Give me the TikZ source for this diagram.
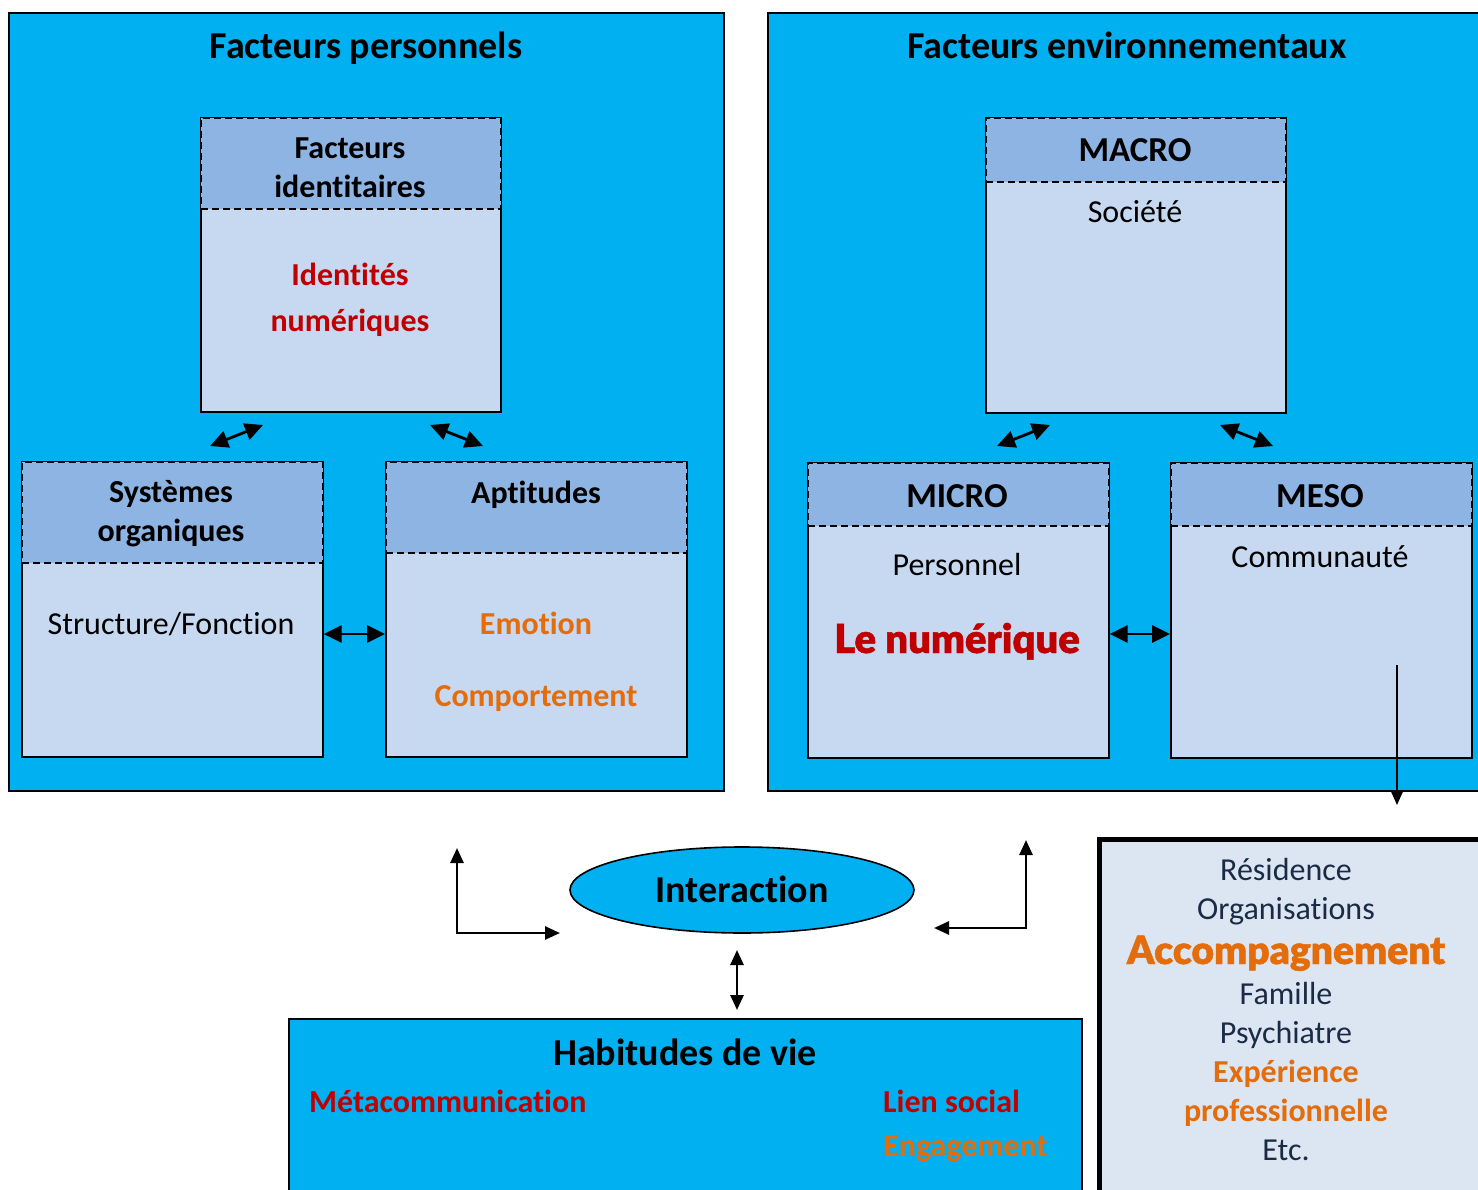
\documentclass[tikz,border=0pt]{standalone}
\usepackage{fontspec}
\setmainfont{Carlito}[Ligatures=NoCommon, Contextuals=NoAlternate]
\newfontfamily\heavy{Lato Black}[BoldFont={Lato Black}, BoldFeatures={FakeBold=1.2}]
\usetikzlibrary{arrows.meta,shapes.geometric}
\definecolor{cyanbg}{HTML}{00B0F0}
\definecolor{headc}{HTML}{8EB4E3}
\definecolor{bodyc}{HTML}{C6D9F1}
\definecolor{paleb}{HTML}{DCE6F2}
\definecolor{redt}{HTML}{C00000}
\definecolor{orat}{HTML}{E46C0A}
\definecolor{navy}{HTML}{1B2B45}
\tikzset{
  outer/.style={draw=black, line width=1.6pt, fill=cyanbg, anchor=north west, inner sep=0pt},
  bodybox/.style={draw=black, line width=1.6pt, fill=bodyc, anchor=north west, inner sep=0pt},
  headbox/.style={draw=black, line width=1.8pt, dash pattern=on 7pt off 4pt, fill=headc, anchor=north west, inner sep=0pt},
  lbl/.style={inner sep=0pt, anchor=base},
  title/.style={lbl, font=\fontsize{38}{44}\selectfont\bfseries},
  head/.style={lbl, font=\fontsize{32}{39}\selectfont\bfseries},
  caps/.style={lbl, font=\fontsize{35}{40}\selectfont\bfseries},
  plain/.style={lbl, font=\fontsize{32}{39}\selectfont},
  boldred/.style={lbl, font=\fontsize{32}{39}\selectfont\bfseries, text=redt},
  boldora/.style={lbl, font=\fontsize{32}{39}\selectfont\bfseries, text=orat},
  biarrow/.style={{Triangle[length=18pt,width=17pt]}-{Triangle[length=18pt,width=17pt]}, line width=2.8pt},
  elbow/.style={{Triangle[length=15pt,width=13pt]}-{Triangle[length=15pt,width=13pt]}, line width=2.6pt},
}
\begin{document}
\begin{tikzpicture}[x=1pt,y=-1pt]
\useasboundingbox (0,0) rectangle (1478,1190);
\fill[white] (0,0) rectangle (1478,1190);

% ---- Facteurs personnels ----
\node[outer, minimum width=715pt, minimum height=778pt] (pers) at (8,12) {};
\node[title] (persT) at (366,59) {Facteurs personnels};

\node[bodybox, minimum width=300pt, minimum height=294pt] (idB) at (200,117) {};
\node[headbox, minimum width=300pt, minimum height=91pt] (idH) at (200,117) {};
\node[head] (idT1) at (350,159) {Facteurs};
\node[head] (idT2) at (350,198) {identitaires};
\node[boldred] (idR1) at (350,286) {Identités};
\node[boldred] (idR2) at (350,331) {numériques};

\node[bodybox, minimum width=301pt, minimum height=295pt] (sysB) at (21,461) {};
\node[headbox, minimum width=301pt, minimum height=101pt] (sysH) at (21,461) {};
\node[head] (sysT1) at (171,502) {Systèmes};
\node[head] (sysT2) at (171,541) {organiques};
\node[plain] (sysS) at (171,634) {Structure/Fonction};

\node[bodybox, minimum width=301pt, minimum height=295pt] (aptB) at (385,461) {};
\node[headbox, minimum width=301pt, minimum height=91pt] (aptH) at (385,461) {};
\node[head] (aptT) at (536,503) {Aptitudes};
\node[boldora] (aptE) at (536,634) {Emotion};
\node[boldora] (aptC) at (536,706) {Comportement};

\coordinate (pa1) at (210,446); \coordinate (pa2) at (263,425);
\coordinate (pb1) at (430,425); \coordinate (pb2) at (483,446);
\draw[biarrow] (pa1) -- (pa2);
\draw[biarrow] (pb1) -- (pb2);
\coordinate (ym) at (0,634);
\draw[biarrow] (sysB.east |- ym) -- (aptB.west |- ym);

% ---- Facteurs environnementaux ----
\node[outer, minimum width=715pt, minimum height=778pt] (env) at (767,12) {};
\node[title] (envT) at (1127,59) {Facteurs environnementaux};

\node[bodybox, minimum width=300pt, minimum height=295pt] (macB) at (985,117) {};
\node[headbox, minimum width=300pt, minimum height=64pt] (macH) at (985,117) {};
\node[caps] (macT) at (1135,162) {MACRO};
\node[plain] (macS) at (1135,223) {Société};

\node[bodybox, minimum width=301pt, minimum height=295pt] (micB) at (807,462) {};
\node[headbox, minimum width=301pt, minimum height=63pt] (micH) at (807,462) {};
\node[caps] (micT) at (957,507) {MICRO};
\node[plain] (micP) at (957,575) {Personnel};
\node[lbl, font=\fontsize{40}{46}\heavy\bfseries, text=redt] (micN) at (957,653) {Le numérique};

\node[bodybox, minimum width=301pt, minimum height=295pt] (mesB) at (1170,462) {};
\node[headbox, minimum width=301pt, minimum height=63pt] (mesH) at (1170,462) {};
\node[caps] (mesT) at (1320,507) {MESO};
\node[plain] (mesC) at (1320,567) {Communauté};

\coordinate (ea1) at (997,446); \coordinate (ea2) at (1050,425);
\coordinate (eb1) at (1220,425); \coordinate (eb2) at (1273,446);
\draw[biarrow] (ea1) -- (ea2);
\draw[biarrow] (eb1) -- (eb2);
\draw[biarrow] (micB.east |- ym) -- (mesB.west |- ym);

% ---- Ressources (bas droite) ----
\node[draw=black, line width=5pt, fill=paleb, anchor=north west, inner sep=0pt,
      minimum width=390pt, minimum height=370pt] (res) at (1097,837) {};
\begin{scope}[every node/.style={lbl, text=navy, font=\fontsize{32}{39}\selectfont}]
\node (r1) at (1286,880) {Résidence};
\node (r2) at (1286,919) {Organisations};
\node[font=\fontsize{39}{46}\heavy\bfseries, text=orat] (r3) at (1286,964) {Accompagnement};
\node (r4) at (1286,1004) {Famille};
\node (r5) at (1286,1043) {Psychiatre};
\node[font=\fontsize{32}{39}\selectfont\bfseries, text=orat] (r6) at (1286,1082) {Expérience};
\node[font=\fontsize{32}{39}\selectfont\bfseries, text=orat] (r7) at (1286,1121) {professionnelle};
\node (r8) at (1286,1160) {Etc.};
\end{scope}
\coordinate (ms) at (1397,665);
\coordinate (me) at (1397,805);
\draw[line width=2pt, -{Triangle[length=14pt,width=12pt]}] (ms) -- (me);

% ---- Interaction ----
\node[ellipse, draw=black, line width=1.6pt, fill=cyanbg, minimum width=344pt, minimum height=86pt, inner sep=0pt] (inter) at (742,890) {};
\node[title] (interT) at (742,902) {Interaction};

\coordinate (l1) at (457,848); \coordinate (l2) at (457,933); \coordinate (l3) at (560,933);
\draw[elbow] (l1) -- (l2) -- (l3);
\coordinate (r1a) at (1026,840); \coordinate (r2a) at (1026,928); \coordinate (r3a) at (934,928);
\draw[elbow] (r1a) -- (r2a) -- (r3a);
\coordinate (v1) at (737,950); \coordinate (v2) at (737,1010);
\draw[elbow] (v1) -- (v2);

% ---- Habitudes de vie ----
\node[outer, minimum width=793pt, minimum height=190pt] (hab) at (288,1018) {};
\node[title] (habT) at (685,1065) {Habitudes de vie};
\node[boldred, anchor=base west] (habM) at (309,1112) {Métacommunication};
\node[boldred, anchor=base west] (habL) at (883,1112) {Lien social};
\node[boldora, anchor=base west] (habE) at (883,1156) {Engagement};
\end{tikzpicture}
\end{document}
